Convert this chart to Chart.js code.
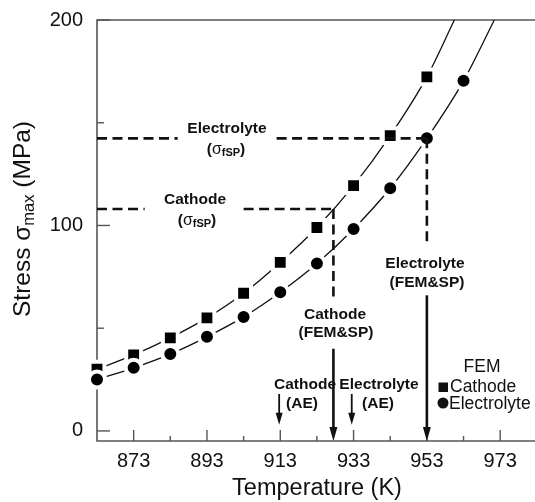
<!DOCTYPE html>
<html><head><meta charset="utf-8">
<script src="https://cdn.jsdelivr.net/npm/chart.js@4/dist/chart.umd.min.js"></script>
<style>html,body{margin:0;padding:0;background:#fff;}canvas{display:block}</style>
</head><body>
<canvas id="c" width="535" height="502"></canvas>
<script>
// ---- data ----
const temperatures = [863, 873, 883, 893, 903, 913, 923, 933, 943, 953, 963];
const cathodeStress = [30, 37, 45.3, 55, 67, 82, 99, 119.4, 143.7, 172.3];
const electrolyteStress = [25, 30.7, 37.4, 45.8, 55.5, 67.5, 81.5, 98.3, 118.1, 142.4, 170.4];
const cathodeFitEnd = [960.5, 200];
const electrolyteFitEnd = [971.4, 200];
const xTicks = [873, 893, 913, 933, 953, 973];
const xMinorTicks = [883, 903, 923, 943, 963];
const yTicks = [0, 100, 200];
const yMinorTicks = [50, 150];
const sigmaFSP = [108, 142.4];          // cathode, electrolyte fracture stress (MPa)
const femSpTemp = [927.5, 953];         // cathode, electrolyte FEM&SP temperature (K)
const aeTemp = [912.7, 932.5];          // cathode, electrolyte AE temperature (K)
const hGapCathode = [876, 903];         // break in cathode σfSP dashed line (K)
const hGapElectrolyte = [885, 912];     // break in electrolyte σfSP dashed line (K)
const vDashEnd = [63.5, 90];            // lower end of the vertical dashed lines (MPa)
const femArrowStart = [40, 66];         // top of FEM&SP arrows (MPa)
const aeArrow = [18, 3];                // AE arrow top / tip (MPa)

const FONT = "'Liberation Sans', Arial, Helvetica, sans-serif";
Chart.defaults.font.family = FONT;

const cathodePts = cathodeStress.map((v, i) => ({x: temperatures[i], y: v}));
const electrolytePts = electrolyteStress.map((v, i) => ({x: temperatures[i], y: v}));

function richText(ctx, parts, x, y, align) {
  let w = 0;
  parts.forEach(p => { ctx.font = p.f; p.w = ctx.measureText(p.t).width; w += p.w; });
  let cx = align === 'center' ? x - w / 2 : (align === 'right' ? x - w : x);
  parts.forEach(p => { ctx.font = p.f; ctx.textAlign = 'left'; ctx.fillText(p.t, cx, y + (p.dy || 0)); cx += p.w; });
}

function arrow(ctx, x, y1, y2, lw, hw, hl) {
  ctx.save();
  ctx.setLineDash([]);
  ctx.lineWidth = lw;
  ctx.beginPath(); ctx.moveTo(x, y1); ctx.lineTo(x, y2 - hl + 1); ctx.stroke();
  ctx.beginPath(); ctx.moveTo(x, y2); ctx.lineTo(x - hw, y2 - hl); ctx.lineTo(x + hw, y2 - hl); ctx.closePath(); ctx.fill();
  ctx.restore();
}

const annot = {
  id: 'annot',
  beforeDatasetsDraw(chart) {
    const ctx = chart.ctx, a = chart.chartArea, xs = chart.scales.x, ys = chart.scales.y;
    ctx.save();
    ctx.strokeStyle = '#555'; ctx.lineWidth = 1.6;
    ctx.beginPath();
    ctx.moveTo(a.right + 2, a.top); ctx.lineTo(a.left, a.top); ctx.lineTo(a.left, a.bottom); ctx.lineTo(a.right + 2, a.bottom);
    ctx.stroke();
    ctx.lineWidth = 1.4;
    xTicks.forEach(t => { const p = xs.getPixelForValue(t); ctx.beginPath(); ctx.moveTo(p, a.bottom); ctx.lineTo(p, a.bottom - 11); ctx.stroke(); });
    xMinorTicks.forEach(t => { const p = xs.getPixelForValue(t); ctx.beginPath(); ctx.moveTo(p, a.bottom); ctx.lineTo(p, a.bottom - 5); ctx.stroke(); });
    yTicks.forEach(t => { const p = ys.getPixelForValue(t); ctx.beginPath(); ctx.moveTo(a.left, p); ctx.lineTo(a.left + 13, p); ctx.stroke(); });
    yMinorTicks.forEach(t => { const p = ys.getPixelForValue(t); ctx.beginPath(); ctx.moveTo(a.left, p); ctx.lineTo(a.left + 7, p); ctx.stroke(); });
    ctx.restore();
  },
  afterDatasetsDraw(chart) {
    const ctx = chart.ctx, a = chart.chartArea, xs = chart.scales.x, ys = chart.scales.y;
    const X = v => xs.getPixelForValue(v), Y = v => ys.getPixelForValue(v);
    ctx.save();
    ctx.strokeStyle = '#111'; ctx.fillStyle = '#111';
    ctx.lineWidth = 2.6; ctx.setLineDash([10, 5.5]); ctx.lineCap = 'butt';
    const hseg = (yv, x1, x2) => { ctx.beginPath(); ctx.moveTo(X(x1), Y(yv)); ctx.lineTo(X(x2), Y(yv)); ctx.stroke(); };
    hseg(sigmaFSP[1], temperatures[0], hGapElectrolyte[0]);
    hseg(sigmaFSP[1], hGapElectrolyte[1], femSpTemp[1]);
    hseg(sigmaFSP[0], temperatures[0], hGapCathode[0]);
    hseg(sigmaFSP[0], hGapCathode[1], femSpTemp[0]);
    const vseg = (xv, y1, y2) => { ctx.beginPath(); ctx.moveTo(X(xv), Y(y1)); ctx.lineTo(X(xv), Y(y2)); ctx.stroke(); };
    vseg(femSpTemp[0], sigmaFSP[0], vDashEnd[0]);
    vseg(femSpTemp[1], sigmaFSP[1], vDashEnd[1]);
    arrow(ctx, X(femSpTemp[0]), Y(femArrowStart[0]), a.bottom, 2.6, 4, 14);
    arrow(ctx, X(femSpTemp[1]), Y(femArrowStart[1]), a.bottom, 2.6, 4, 14);
    arrow(ctx, X(aeTemp[0]), Y(aeArrow[0]), Y(aeArrow[1]), 1.8, 3.5, 12);
    arrow(ctx, X(aeTemp[1]), Y(aeArrow[0]), Y(aeArrow[1]), 1.8, 3.5, 12);
    ctx.textBaseline = 'middle';
    const B = 'bold 15.5px ' + FONT;
    const sig = (x, y) => richText(ctx, [
      {t: '(', f: B}, {t: 'σ', f: '16px ' + FONT}, {t: 'fSP', f: 'bold 11px ' + FONT, dy: 3}, {t: ')', f: B}
    ], x, y, 'center');
    richText(ctx, [{t: 'Electrolyte', f: B}], 227, 129, 'center');
    sig(226, 150);
    richText(ctx, [{t: 'Cathode', f: B}], 195, 200, 'center');
    sig(197, 221);
    richText(ctx, [{t: 'Cathode', f: B}], 335, 315, 'center');
    richText(ctx, [{t: '(FEM&SP)', f: B}], 336, 333, 'center');
    richText(ctx, [{t: 'Electrolyte', f: B}], 425, 264, 'center');
    richText(ctx, [{t: '(FEM&SP)', f: B}], 427, 283, 'center');
    richText(ctx, [{t: 'Cathode', f: B}], 305, 385, 'center');
    richText(ctx, [{t: '(AE)', f: B}], 302, 404, 'center');
    richText(ctx, [{t: 'Electrolyte', f: B}], 379, 385, 'center');
    richText(ctx, [{t: '(AE)', f: B}], 378, 404, 'center');
    const L = '17.5px ' + FONT;
    richText(ctx, [{t: 'FEM', f: L}], 482, 367, 'center');
    ctx.fillRect(438.5, 382.5, 9.5, 9.5);
    richText(ctx, [{t: 'Cathode', f: L}], 450, 387, 'left');
    ctx.beginPath(); ctx.arc(443, 403, 5.5, 0, Math.PI * 2); ctx.fill();
    richText(ctx, [{t: 'Electrolyte', f: L}], 449, 404, 'left');
    ctx.textBaseline = 'alphabetic';
    richText(ctx, [{t: 'Temperature (K)', f: '23.5px ' + FONT}], 317, 495, 'center');
    ctx.save();
    ctx.translate(30, 219); ctx.rotate(-Math.PI / 2);
    richText(ctx, [
      {t: 'Stress ', f: '24.5px ' + FONT}, {t: 'σ', f: '24.5px ' + FONT},
      {t: 'max', f: '16.5px ' + FONT, dy: 4}, {t: ' (MPa)', f: '24.5px ' + FONT}
    ], 0, 0, 'center');
    ctx.restore();
    ctx.restore();
  }
};

new Chart(document.getElementById('c'), {
  type: 'scatter',
  data: {
    datasets: [
      { label: 'Electrolyte', data: electrolytePts, pointStyle: 'circle', pointRadius: 8,
        backgroundColor: '#000', pointBorderColor: '#fff', pointBorderWidth: 4, showLine: false, order: 0, clip: false },
      { label: 'Cathode', data: cathodePts, pointStyle: 'rect', pointRadius: 10.5,
        backgroundColor: '#000', pointBorderColor: '#fff', pointBorderWidth: 4, showLine: false, order: 1, clip: false },
      { label: 'Cathode fit', data: cathodePts.concat([{x: cathodeFitEnd[0], y: cathodeFitEnd[1]}]),
        showLine: true, pointRadius: 0, borderColor: '#111', borderWidth: 1.3, cubicInterpolationMode: 'monotone', order: 2, clip: false },
      { label: 'Electrolyte fit', data: electrolytePts.concat([{x: electrolyteFitEnd[0], y: electrolyteFitEnd[1]}]),
        showLine: true, pointRadius: 0, borderColor: '#111', borderWidth: 1.3, cubicInterpolationMode: 'monotone', order: 2, clip: false }
    ]
  },
  options: {
    responsive: false, animation: false, devicePixelRatio: 1,
    layout: { autoPadding: false, padding: { top: 20, right: 0, left: 0, bottom: 0 } },
    plugins: { legend: { display: false }, tooltip: { enabled: false } },
    scales: {
      x: {
        type: 'linear', min: 863, max: 982.5,
        grid: { display: false, drawTicks: false }, border: { display: false },
        afterBuildTicks: s => { s.ticks = xTicks.map(v => ({value: v})); },
        afterFit: s => { s.height = 61; s.paddingLeft = 0; s.paddingRight = 0; },
        ticks: { color: '#111', font: { size: 20 }, padding: 8, maxRotation: 0, autoSkip: false }
      },
      y: {
        type: 'linear', min: -4.9, max: 200,
        grid: { display: false, drawTicks: false }, border: { display: false },
        afterBuildTicks: s => { s.ticks = yTicks.map(v => ({value: v})); },
        afterFit: s => { s.width = 97; s.paddingTop = 0; s.paddingBottom = 0; },
        ticks: { color: '#111', font: { size: 20 }, padding: 14, autoSkip: false }
      }
    }
  },
  plugins: [annot]
});
</script>
</body></html>
